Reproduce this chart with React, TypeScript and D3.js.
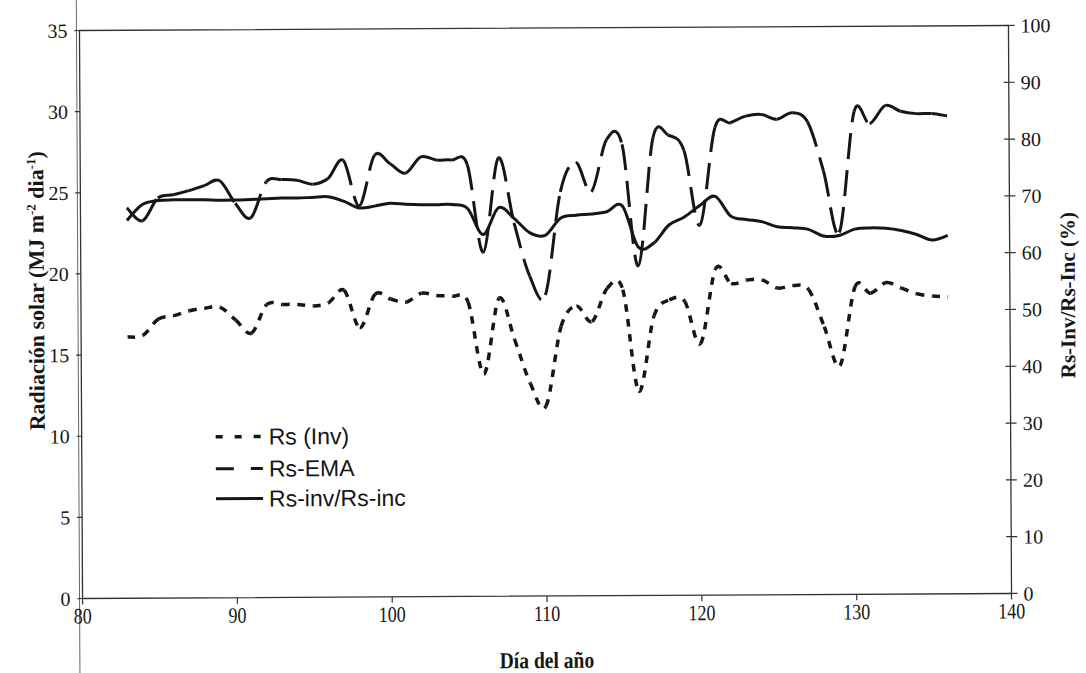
import React from "react";
import * as d3 from "d3";

const days = [83,84,85,86,87,88,89,90,91,92,93,94,95,96,97,98,99,100,101,102,103,104,105,106,107,108,109,110,111,112,113,114,115,116,117,118,119,120,121,122,123,124,125,126,127,128,129,130,131,132,133,134,135,136];

const rsInv = [16.1,16.2,17.2,17.4,17.7,17.85,17.9,17.1,16.3,18.05,18.05,18.05,17.95,18.15,18.9,16.6,18.65,18.35,18.15,18.7,18.55,18.5,18.15,13.7,18.35,15.8,13.1,11.7,16.6,17.85,16.9,18.95,18.85,12.6,17.2,18.2,18.1,15.5,20.1,19.2,19.4,19.4,18.9,19.05,18.8,16.5,14.1,18.95,18.55,19.2,18.85,18.5,18.35,18.3];

const rsEma = [24.05,23.25,24.65,24.85,25.1,25.4,25.7,24.3,23.4,25.6,25.75,25.7,25.45,25.8,26.9,24.1,27.2,26.7,26.1,27.1,26.9,26.9,26.6,21.2,27.0,23.0,19.7,18.55,24.9,26.7,24.9,28.1,27.8,20.3,28.2,28.35,27.4,22.8,28.8,29.1,29.5,29.6,29.3,29.7,29.1,26.1,22.3,29.75,29.0,30.1,29.75,29.6,29.6,29.45];

const ratio = [66.5,69.3,70.0,70.1,70.1,70.1,70.0,70.0,70.1,70.2,70.3,70.3,70.4,70.5,69.7,68.5,68.8,69.3,69.1,69.0,69.0,69.0,68.3,63.7,68.4,66.5,64.0,63.5,66.5,67.0,67.2,67.6,68.6,61.4,62.0,65.2,66.6,68.6,70.2,66.7,66.1,65.7,64.8,64.6,64.3,63.1,63.2,64.3,64.5,64.4,64.0,63.3,62.3,63.1];

const xTicks = [80, 90, 100, 110, 120, 130, 140];
const yLeftTicks = [0, 5, 10, 15, 20, 25, 30, 35];
const yRightTicks = [0, 10, 20, 30, 40, 50, 60, 70, 80, 90, 100];

const W = 1086, H = 673;
const L = 81, R = 1010, T = 28, B = 596;

const x = d3.scaleLinear().domain([80, 140]).range([L, R]);
const yL = d3.scaleLinear().domain([0, 35]).range([B, T]);
const yR = d3.scaleLinear().domain([0, 100]).range([B, T]);

const ink = "#161616";
const serif = "'Liberation Serif', 'Times New Roman', serif";
const sans = "'Liberation Sans', Arial, sans-serif";

// Excel-like smoothed line drawn segment by segment (dash pattern restarts each segment)
function segments(vals: number[], ys: d3.ScaleLinear<number, number>): string[] {
  const pts = vals.map((v, i) => [x(days[i]), ys(v)] as [number, number]);
  const n = pts.length;
  const out: string[] = [];
  for (let i = 0; i < n - 1; i++) {
    const p0 = pts[Math.max(i - 1, 0)];
    const p1 = pts[i];
    const p2 = pts[i + 1];
    const p3 = pts[Math.min(i + 2, n - 1)];
    const c1 = [p1[0] + (p2[0] - p0[0]) / 6, p1[1] + (p2[1] - p0[1]) / 6];
    const c2 = [p2[0] - (p3[0] - p1[0]) / 6, p2[1] - (p3[1] - p1[1]) / 6];
    const p = d3.path();
    p.moveTo(p1[0], p1[1]);
    p.bezierCurveTo(c1[0], c1[1], c2[0], c2[1], p2[0], p2[1]);
    out.push(p.toString());
  }
  return out;
}

function smoothAll(vals: number[], ys: d3.ScaleLinear<number, number>): string {
  const line = d3
    .line<number>()
    .x((_, i) => x(days[i]))
    .y((v) => ys(v))
    .curve(d3.curveCatmullRom.alpha(0));
  return line(vals) || "";
}

export default function App() {
  const invSegs = segments(rsInv, yL);
  const emaSegs = segments(rsEma, yL);
  const ratioPath = smoothAll(ratio, yR);

  return (
    <div style={{ position: "absolute", left: 0, top: 0, width: W, height: H, background: "#fff" }}>
      <svg width={W} height={H} style={{ display: "block" }}>
        <rect x={0} y={0} width={W} height={H} fill="#ffffff" />
        <g transform="rotate(-0.31 545.5 312)">
          {/* figure edge line */}
          <line x1={L - 3} x2={L - 3} y1={-10} y2={H + 10} stroke="#666" strokeWidth={1} />

          {/* plot frame */}
          <rect x={L} y={T} width={R - L} height={B - T} fill="none" stroke="#333" strokeWidth={1.3} />

          {/* left axis ticks & labels */}
          {yLeftTicks.map((t) => (
            <g key={"l" + t}>
              <line x1={L - 5} x2={L} y1={yL(t)} y2={yL(t)} stroke="#333" strokeWidth={1.2} />
              <text x={L - 12} y={yL(t)} dy="0.35em" textAnchor="end" fontFamily={serif} fontSize={20} fill={ink}>
                {t}
              </text>
            </g>
          ))}

          {/* right axis ticks & labels */}
          {yRightTicks.map((t) => (
            <g key={"r" + t}>
              <line x1={R - 5} x2={R + 6} y1={yR(t)} y2={yR(t)} stroke="#333" strokeWidth={1.2} />
              <text x={R + 12} y={yR(t)} dy="0.35em" textAnchor="start" fontFamily={serif} fontSize={20} fill={ink}>
                {t}
              </text>
            </g>
          ))}

          {/* bottom axis ticks & labels */}
          {xTicks.map((t) => (
            <g key={"x" + t}>
              <line x1={x(t)} x2={x(t)} y1={B} y2={B + 6} stroke="#333" strokeWidth={1.2} />
              <text
                transform={`translate(${x(t)}, ${B + 25}) scale(0.82, 1)`}
                textAnchor="middle"
                fontFamily={serif}
                fontSize={22}
                fill={ink}
              >
                {t}
              </text>
            </g>
          ))}

          {/* axis titles */}
          <text
            transform={`translate(44, 288) rotate(-90)`}
            textAnchor="middle"
            fontFamily={serif}
            fontWeight="bold"
            fontSize={22}
            fill={ink}
          >
            Radiación solar (MJ m<tspan dy={-8} fontSize={13}>-2</tspan>
            <tspan dy={8}> dia</tspan>
            <tspan dy={-8} fontSize={13}>-1</tspan>
            <tspan dy={8}>)</tspan>
          </text>
          <text
            transform={`translate(1075, 298) rotate(-90)`}
            textAnchor="middle"
            fontFamily={serif}
            fontWeight="bold"
            fontSize={21}
            fill={ink}
          >
            Rs-Inv/Rs-Inc (%)
          </text>
          <text
            transform="translate(545, 668) scale(0.85, 1)"
            textAnchor="middle"
            fontFamily={serif}
            fontWeight="bold"
            fontSize={23}
            fill={ink}
          >
            Día del año
          </text>

          {/* series: Rs (Inv) */}
          <g fill="none" stroke={ink} strokeWidth={3.5} strokeDasharray="7.5,7.5">
            {invSegs.map((d, i) => (
              <path key={"inv" + i} d={d} />
            ))}
          </g>
          {/* series: Rs-EMA */}
          <g fill="none" stroke={ink} strokeWidth={3} strokeDasharray="26,11">
            {emaSegs.map((d, i) => (
              <path key={"ema" + i} d={d} />
            ))}
          </g>
          {/* series: ratio */}
          <path d={ratioPath} fill="none" stroke={ink} strokeWidth={3} strokeLinejoin="round" />

          {/* legend */}
          <g>
            <line x1={215} x2={262} y1={435} y2={435} stroke={ink} strokeWidth={3.5} strokeDasharray="7,12" />
            <text x={268} y={443} fontFamily={sans} fontSize={23} fill={ink}>Rs (Inv)</text>
            <line x1={215} x2={262} y1={467} y2={467} stroke={ink} strokeWidth={3} strokeDasharray="18,17" />
            <text x={268} y={475} fontFamily={sans} fontSize={23} fill={ink}>Rs-EMA</text>
            <line x1={215} x2={262} y1={497} y2={497} stroke={ink} strokeWidth={3} />
            <text x={268} y={505} fontFamily={sans} fontSize={23} fill={ink}>Rs-inv/Rs-inc</text>
          </g>
        </g>
      </svg>
    </div>
  );
}
